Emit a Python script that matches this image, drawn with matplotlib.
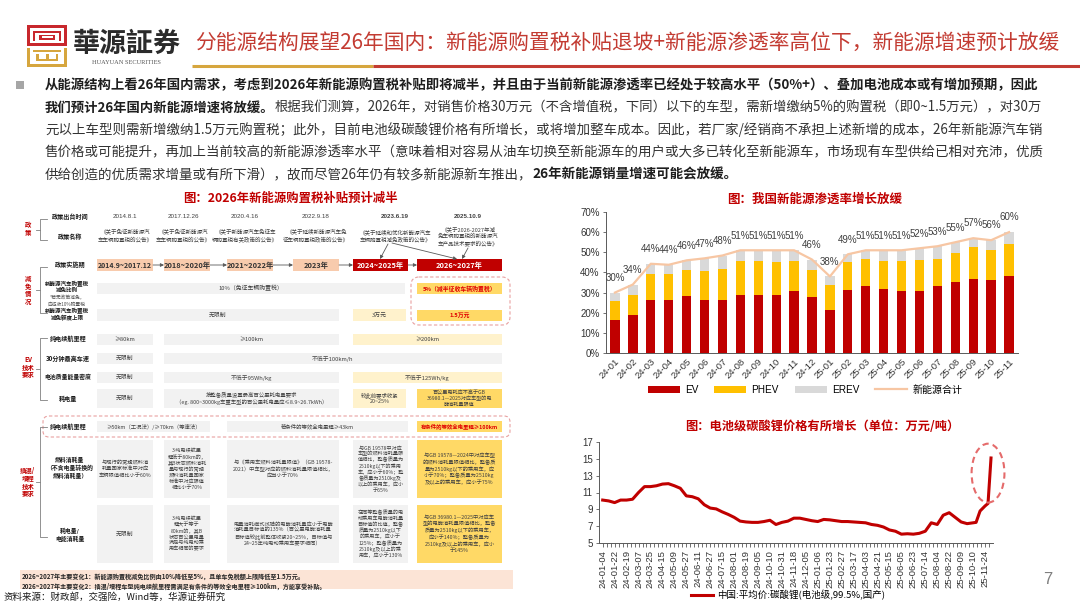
import matplotlib
matplotlib.use('Agg')
import matplotlib.pyplot as plt
from matplotlib.patches import Rectangle, FancyBboxPatch, Ellipse
from matplotlib.font_manager import FontProperties
import numpy as np

CJK = ['Noto Sans CJK SC', 'DejaVu Sans']
LAT = ['Liberation Sans', 'Noto Sans CJK SC', 'DejaVu Sans']
plt.rcParams['font.family'] = CJK
plt.rcParams['axes.unicode_minus'] = False

# ---------------- data ----------------
months = ['24-01', '24-02', '24-03', '24-04', '24-05', '24-06', '24-07', '24-08',
          '24-09', '24-10', '24-11', '24-12', '25-01', '25-02', '25-03', '25-04',
          '25-05', '25-06', '25-07', '25-08', '25-09', '25-10', '25-11']
ev = [16.5, 19.0, 26.1, 26.1, 28.1, 26.5, 26.5, 29.0, 29.0, 29.0, 30.6, 27.6,
      21.2, 31.4, 33.4, 31.9, 30.6, 30.9, 33.1, 35.1, 36.9, 36.1, 38.1]
phev = [9.1, 10.0, 13.3, 13.3, 13.3, 14.0, 15.4, 16.8, 16.5, 16.3, 15.2, 13.8,
        12.7, 13.6, 13.4, 13.9, 14.9, 15.4, 13.7, 14.5, 15.6, 15.2, 16.2]
erev = [4.4, 5.0, 4.9, 4.4, 4.6, 6.5, 6.5, 5.2, 5.5, 5.7, 5.2, 5.0,
        4.1, 4.0, 4.2, 5.2, 5.5, 5.7, 6.2, 5.4, 4.5, 4.7, 5.7]
nev_total = [30.0, 34.0, 44.3, 43.8, 46.0, 47.0, 48.4, 51.0, 51.0, 51.0, 51.0, 46.4,
             38.0, 49.0, 51.0, 51.0, 51.0, 52.0, 53.0, 55.0, 57.0, 56.0, 60.0]

# lithium carbonate price (trading-day index, 10k CNY/t)
li_day = [0, 6, 12, 18, 24, 30, 36, 42, 48, 54, 60, 66, 72, 78, 84, 90, 96, 102,
          108, 114, 120, 126, 132, 138, 144, 150, 156, 162, 168, 174, 180, 186,
          192, 198, 204, 210, 216, 222, 228, 234, 240, 246, 252, 258, 264, 270,
          276, 282, 288, 294, 300, 306, 312, 318, 324, 330, 336, 342, 348, 354,
          360, 366, 372, 375, 379, 384, 387, 390]
li_price = [10.1, 10.0, 9.8, 10.1, 10.1, 10.2, 11.0, 11.7, 11.7, 11.8, 12.0, 12.05,
            11.8, 11.5, 10.6, 10.5, 10.25, 9.55, 9.15, 9.05, 8.7, 8.4, 8.05, 7.6,
            7.5, 7.45, 7.45, 7.55, 7.7, 7.2, 7.45, 7.6, 7.95, 7.95, 7.8, 7.65,
            7.55, 7.8, 7.75, 7.65, 7.55, 7.55, 7.5, 7.45, 7.4, 7.2, 7.1, 6.9,
            6.55, 6.4, 6.05, 6.1, 6.05, 6.15, 6.4, 7.4, 7.2, 8.3, 8.6, 8.05,
            7.5, 7.3, 7.4, 7.45, 8.8, 9.4, 9.7, 15.1]
li_tick_labels = ['24-01-04', '24-01-22', '24-02-19', '24-03-07', '24-03-25', '24-04-15',
                  '24-05-09', '24-05-27', '24-06-11', '24-06-27', '24-07-15', '24-08-01',
                  '24-08-19', '24-09-05', '24-10-10', '24-10-31', '24-11-18', '24-12-05',
                  '25-01-06', '25-01-23', '25-02-27', '25-03-17', '25-04-03', '25-04-21',
                  '25-05-15', '25-06-05', '25-06-23', '25-07-14', '25-08-04', '25-08-22',
                  '25-09-09', '25-10-10', '25-11-24']

RED = '#C00000'
TRED = '#C33B32'
GOLD = '#D6A63E'

W, H = 1080, 604
fig = plt.figure(figsize=(10.8, 6.04), dpi=100)
fig.patch.set_facecolor('white')
bg = fig.add_axes([0, 0, 1, 1], zorder=0)
bg.set_xlim(0, W)
bg.set_ylim(H, 0)
bg.axis('off')
renderer = fig.canvas.get_renderer()


def measure(s, fs, weight='normal', family=CJK):
    t = bg.text(0, 0, s, fontsize=fs, fontweight=weight, family=family)
    w = t.get_window_extent(renderer).width
    t.remove()
    return w


def fit_line(segs, x0, y, width, base=10.0, family=CJK):
    ws = [measure(s, base, wt, family) for s, wt, c in segs]
    k = width / sum(ws)
    fs = base * k
    x = x0
    arts = []
    for (s, wt, c), w in zip(segs, ws):
        arts.append(bg.text(x, y, s, fontsize=fs, fontweight=wt, color=c,
                            family=family, ha='left', va='center'))
        x += w * k
    return arts


def rect(x0, y0, x1, y1, fc, **kw):
    r = Rectangle((x0, y0), x1 - x0, y1 - y0, fc=fc, ec='none', **kw)
    bg.add_patch(r)
    return r


# ---------------- header ----------------
rect(27, 25, 67, 46, '#C8282D')
rect(30, 28, 64, 43, 'white')
rect(33, 30.5, 61, 32.5, '#C8282D')
rect(33, 30.5, 35, 41, '#C8282D')
rect(59, 30.5, 61, 41, '#C8282D')
rect(39, 34.5, 55, 40, '#C8282D')
rect(41.5, 36.3, 52.5, 38.2, 'white')
rect(27, 47.5, 67, 67, GOLD)
rect(30, 47.5, 64, 64, 'white')
rect(33, 50, 61, 52, GOLD)
rect(36, 54, 58, 61, GOLD)
rect(38.5, 54, 55.5, 58.5, 'white')
rect(45.5, 54, 48.5, 58.5, GOLD)

fit_line([('華源証券', 'bold', '#2B2B2B')], 73, 44, 108, family=['Noto Sans CJK TC', 'DejaVu Sans'])
bg.text(126, 62, 'HUAYUAN SECURITIES', fontsize=4.6, family='Liberation Serif',
        color='#555555', ha='center', va='center')

fit_line([('分能源结构展望26年国内：新能源购置税补贴退坡+新能源渗透率高位下，新能源增速预计放缓',
           'normal', TRED)], 195, 43, 862)
bg.plot([192, 373], [65.5, 65.5], color=GOLD, lw=2.2, solid_capstyle='butt')
bg.plot([373, 1080], [65.5, 65.5], color=TRED, lw=2.2, solid_capstyle='butt')

rect(16, 81, 24, 89, '#A6A6A6')
DK = '#1E1E1E'
NM = '#333333'
para = [
    ([('从能源结构上看26年国内需求，考虑到2026年新能源购置税补贴即将减半，并且由于当前新能源渗透率已经处于较高水平（50%+）、叠加电池成本或有增加预期，因此', 'bold', DK)], 995),
    ([('我们预计26年国内新能源增速将放缓。', 'bold', DK),
      ('根据我们测算，2026年，对销售价格30万元（不含增值税，下同）以下的车型，需新增缴纳5%的购置税（即0~1.5万元），对30万', 'normal', NM)], 995),
    ([('元以上车型则需新增缴纳1.5万元购置税；此外，目前电池级碳酸锂价格有所增长，或将增加整车成本。因此，若厂家/经销商不承担上述新增的成本，26年新能源汽车销', 'normal', NM)], 995),
    ([('售价格或可能提升，再加上当前较高的新能源渗透率水平（意味着相对容易从油车切换至新能源车的用户或大多已转化至新能源车，市场现有车型供给已相对充沛，优质', 'normal', NM)], 995),
    ([('供给创造的优质需求增量或有所下滑），故而尽管26年仍有较多新能源新车推出，', 'normal', NM),
      ('26年新能源销量增速可能会放缓。', 'bold', DK)], 693),
]
for i, (segs, wd) in enumerate(para):
    fit_line(segs, 45, 85 + i * 22.5, wd)

# ---------------- left table image ----------------
fit_line([('图：2026年新能源购置税补贴预计减半', 'bold', RED)], 183, 198, 215)

GREY = '#F2F2F2'
LY = '#FFF2CC'
YEL = '#FFD966'
PEACH = '#F8CBAD'
TXT = '#404040'
TRD = '#E00000'


def cell(x0, x1, y0, y1, fc, txt='', tc=TXT, fs=4.2, weight='normal', ls=1.25):
    rect(x0, y0, x1, y1, fc)
    if txt:
        bg.text((x0 + x1) / 2, (y0 + y1) / 2, txt, ha='center', va='center',
                fontsize=fs, color=tc, fontweight=weight, linespacing=ls, family=CJK)


def label(x, y, txt, color='#1A1A1A', fs=4.4, weight='bold', ls=1.3):
    bg.text(x, y, txt, ha='center', va='center', fontsize=fs, color=color,
            fontweight=weight, linespacing=ls, family=CJK)


def bracket(y0, y1, txt, ty):
    bg.plot([47, 40, 40, 47], [y0, y0, y1, y1], color='#808080', lw=0.6)
    bg.plot([36, 40], [(y0 + y1) / 2, (y0 + y1) / 2], color='#808080', lw=0.6)
    bg.text(28, ty, txt, ha='center', va='center', fontsize=4.6, color=RED,
            fontweight='bold', linespacing=1.15)


bracket(219, 240, '政\n策', 229)
bracket(267, 313, '减\n免\n情\n况', 290)
bracket(338, 400, 'EV\n技术\n要求', 367)
bracket(427, 537, '插混/\n增程\n技术\n要求', 482)

label(70, 217, '政策出台时间')
label(70, 236, '政策名称')
label(70, 265, '政策实施期')
label(67, 287, '新能源汽车购置税\n减免比例', fs=4.0, ls=1.2)
label(67, 301, '*若无政策减免，\n应征收10%购置税', color='#505050', fs=3.4, weight='normal', ls=1.15)
label(67, 315, '新能源汽车购置税\n减免额度上限', fs=4.0, ls=1.2)
label(68, 339, '纯电续航里程')
label(68, 359, '30分钟最高车速')
label(68, 377, '电池质量能量密度', fs=4.2)
label(68, 398, '耗电量')
label(68, 427, '纯电续航里程')
label(70, 468, '燃料消耗量\n（不含电量转换的\n燃料消耗量）', fs=4.2)
label(70, 535, '耗电量/\n电能消耗量', fs=4.2)

dates_x = [125, 183, 245, 316, 395, 468]
dates = ['2014.8.1', '2017.12.26', '2020.4.16', '2022.9.18', '2023.6.19', '2025.10.9']
for i, (xx, d) in enumerate(zip(dates_x, dates)):
    bg.text(xx, 217, d, ha='center', va='center', fontsize=4.5, color='#404040',
            fontweight='bold' if i >= 4 else 'normal', family=LAT)
names = ['《关于免征新能源汽\n车车辆购置税的公告》', '《关于免征新能源汽\n车车辆购置税的公告》',
         '《关于新能源汽车免征车\n辆购置税有关政策的公告》', '《关于延续新能源汽车免\n征车辆购置税政策的公告》',
         '《关于延续和优化新能源汽车\n车辆购置税减免政策的公告》',
         '《关于2026-2027年减\n免车辆购置税的新能源汽\n车产品技术要求的公告》']
for i, (xx, n) in enumerate(zip(dates_x, names)):
    bg.text(xx, 236, n, ha='center', va='center', fontsize=4.0, color='#404040',
            linespacing=1.3)

tl = [(97, 153, '2014.9~2017.12', PEACH, '#333333', 5.0),
      (164, 210, '2018~2020年', PEACH, '#333333', 5.3),
      (227, 273, '2021~2022年', PEACH, '#333333', 5.3),
      (293, 339, '2023年', PEACH, '#333333', 5.3),
      (353, 408, '2024~2025年', RED, 'white', 5.3),
      (417, 502, '2026~2027年', RED, 'white', 5.3)]
for x0, x1, t, fc, tc, fs in tl:
    cell(x0, x1, 259, 271, fc, t, tc=tc, fs=fs, weight='bold')
ap = dict(arrowstyle='-|>', color='#595959', lw=0.6, mutation_scale=5, shrinkA=0, shrinkB=0)
for a, b in [(153, 164), (210, 227), (273, 293), (339, 353), (408, 417)]:
    bg.annotate('', xy=(b, 265), xytext=(a, 265), arrowprops=ap)
bg.annotate('', xy=(380, 259), xytext=(388, 244), arrowprops=ap)
bg.annotate('', xy=(457, 259), xytext=(392, 243), arrowprops=ap)
bg.annotate('', xy=(462, 259), xytext=(468, 248), arrowprops=ap)

cell(97, 405, 283, 294, GREY, '10%（免征车辆购置税）')
cell(417, 502, 283, 294, YEL, '5%（减半征收车辆购置税）', tc=TRD, weight='bold')
cell(97, 339, 309, 321, GREY, '无限制')
cell(353, 406, 309, 321, LY, '3万元')
cell(417, 502, 310, 321, YEL, '1.5万元', tc=TRD, weight='bold')
bg.add_patch(FancyBboxPatch((411, 277), 99, 48, boxstyle='round,pad=0,rounding_size=8',
                            fc='none', ec='#E8A0A0', lw=0.8, ls=(0, (3, 2))))

cell(97, 153, 334, 345, GREY, '≥80km')
cell(164, 339, 334, 345, GREY, '≥100km')
cell(353, 502, 334, 345, LY, '≥200km')
cell(97, 153, 353, 364, GREY, '无限制')
cell(164, 502, 353, 364, GREY, '不低于100km/h')
cell(97, 153, 372, 383, GREY, '无限制')
cell(164, 339, 372, 383, GREY, '不低于95Wh/kg')
cell(353, 502, 372, 383, LY, '不低于125Wh/kg')
cell(97, 153, 389, 408, GREY, '无限制')
cell(164, 339, 389, 408, GREY, '按整备质量设置最高百公里耗电量要求\n（eg. 800~3000kg车重车型的百公里耗电量应≤8.9~26.7kWh）', fs=3.9)
cell(353, 406, 389, 408, LY, '较此前要求收紧\n20~25%', fs=3.9)
cell(417, 502, 389, 408, YEL, '百公里电耗应不高于GB\n36980.1—2025对应车型的电\n能消耗量限值', fs=3.7, ls=1.15)

bg.add_patch(FancyBboxPatch((43, 416), 467, 21, boxstyle='round,pad=0,rounding_size=6',
                            fc='none', ec='#E8A0A0', lw=0.8, ls=(0, (3, 2))))
cell(97, 210, 421, 432, GREY, '≥50km（工况法）/≥70km（等速法）', fs=3.9)
cell(227, 408, 421, 432, GREY, '若条件的等效全电里程≥43km', fs=3.9)
cell(417, 502, 421, 432, YEL, '有条件的等效全电里程≥100km', tc=TRD, fs=3.9, weight='bold')

cell(97, 153, 440, 498, GREY, '与现行的常规燃料消\n耗量国家标准中对应\n车辆限值相比小于60%', fs=3.8)
cell(164, 210, 440, 498, GREY, '3.纯电续航里\n程低于80km的，\n其B状态燃料消耗\n量与现行的常规\n燃料消耗量国家\n标准中对应限值\n相比小于70%', fs=3.7, ls=1.2)
cell(227, 339, 440, 498, GREY, '与《乘用车燃料消耗量限值》（GB 19578-\n2021）中车型对应的燃料消耗量限值相比，\n应当小于70%', fs=3.8)
cell(353, 408, 440, 498, GREY, '与GB 19578中对应\n车型的燃料消耗量限\n值相比，整备质量为\n2510kg以下的乘用\n车，应小于60%；整\n备质量为2510kg及\n以上的乘用车，应小\n于65%', fs=3.7, ls=1.15)
cell(417, 502, 440, 498, YEL, '与GB 19578—2024中对应车型\n的燃料消耗量限值相比，整备质\n量为2510kg以下的乘用车，应\n小于70%；整备质量为2510kg\n及以上的乘用车，应小于75%', fs=3.8)

cell(97, 153, 505, 563, GREY, '无限制')
cell(164, 210, 505, 563, GREY, '3.纯电续航里\n程大于等于\n80km的，其B\n状态百公里电量\n满足与纯电动乘\n用车相同的要求', fs=3.7, ls=1.2)
cell(227, 339, 505, 563, GREY, '电量消耗模式试验的电能消耗量应小于电能\n消耗量目标值的135%（百公里电能消耗量\n目标值较此前整体收紧20~25%，目标值与\n24~25年纯电动乘用车要求相同）', fs=3.8)
cell(353, 408, 505, 563, GREY, '在同等整备质量的电\n动乘用车电能消耗量\n目标值的比值，整备\n质量为2510kg以下\n的乘用车，应小于\n125%；整备质量为\n2510kg及以上的乘\n用车，应小于130%', fs=3.7, ls=1.15)
cell(417, 502, 505, 563, YEL, '与GB 36980.1—2025中对应车\n型的电能消耗量限值相比，整备\n质量为2510kg以下的乘用车，\n应小于140%；整备质量为\n2510kg及以上的乘用车，应小\n于145%', fs=3.8)

band = rect(20, 570, 513, 589, '#FCE4D6')
fit_line([('2026~2027年主要变化1：新能源购置税减免比例由10%降低至5%，且单车免税额上限降低至1.5万元。', 'bold', '#262626')], 22, 576, 283)
arts = fit_line([('2026~2027年主要变化2：插混/增程车型纯电续航里程需满足有条件的等效全电里程≥100km，方能享受补贴。', 'bold', '#262626')], 22, 586.5, 303)
for a in arts:
    a.set_clip_path(band)

fit_line([('资料来源：财政部，交强险，Wind等，华源证券研究', 'normal', '#1A1A1A')], 4, 597, 222)

bg.text(1048, 580, '7', fontsize=12, color='#7F7F7F', family=LAT, ha='center', va='center')

# ---------------- bar chart ----------------
fit_line([('图：我国新能源渗透率增长放缓', 'bold', RED)], 727, 199, 175)
axb = fig.add_axes([606 / W, 1 - 353 / H, 412 / W, 141 / H], zorder=2)
axb.set_facecolor('none')
x = np.arange(len(months))
ev_a = np.array(ev)
phev_a = np.array(phev)
erev_a = np.array(erev)
bw = 0.52
b1 = axb.bar(x, ev_a, width=bw, color='#C00000', label='EV', zorder=2)
b2 = axb.bar(x, phev_a, bottom=ev_a, width=bw, color='#FFC000', label='PHEV', zorder=2)
b3 = axb.bar(x, erev_a, bottom=ev_a + phev_a, width=bw, color='#D9D9D9', label='EREV', zorder=2)
ln, = axb.plot(x, nev_total, color='#F7C6A3', lw=1.6, label='新能源合计', zorder=3)
for xi, t in zip(x, nev_total):
    axb.text(xi, t + 7.3, f'{round(t)}%', ha='center', va='center', fontsize=7,
             family=LAT, color='#404040', zorder=4)
axb.set_xlim(-0.5, len(months) - 0.5)
axb.set_ylim(0, 70)
axb.set_yticks(range(0, 71, 10))
axb.set_yticklabels([f'{v}%' for v in range(0, 71, 10)], family=LAT, fontsize=7, color='#333333')
axb.set_xticks(x)
axb.set_xticklabels(months, rotation=45, ha='right', rotation_mode='anchor',
                    family=LAT, fontsize=6.8, color='#333333')
axb.tick_params(axis='x', length=0, pad=3)
axb.tick_params(axis='y', length=2.5, width=0.6, pad=2, color='#595959')
for s in ['top', 'right']:
    axb.spines[s].set_visible(False)
for s in ['left', 'bottom']:
    axb.spines[s].set_color('#595959')
    axb.spines[s].set_linewidth(0.7)
axb.legend(handles=[b1, b2, b3, ln], loc='center', bbox_to_anchor=(805 / W, 1 - 390 / H),
           bbox_transform=fig.transFigure, ncol=4, frameon=False, handlelength=3.2,
           handleheight=0.75, handletextpad=0.5, columnspacing=1.6,
           prop=FontProperties(family=LAT, size=7.2))

# ---------------- line chart ----------------
fit_line([('图：电池级碳酸锂价格有所增长（单位：万元/吨）', 'bold', RED)], 685, 426, 273)
axl = fig.add_axes([599 / W, 1 - 543 / H, 394 / W, 101 / H], zorder=2)
axl.set_facecolor('none')
lline, = axl.plot(li_day, li_price, color='#C00000', lw=2.2, solid_joinstyle='round',
                  label='中国:平均价:碳酸锂(电池级,99.5%,国产)')
axl.set_xlim(-3.7, 392)
axl.set_ylim(5, 17)
axl.set_yticks([5, 7, 9, 11, 13, 15, 17])
axl.set_yticklabels([str(v) for v in [5, 7, 9, 11, 13, 15, 17]], family=LAT, fontsize=7, color='#333333')
axl.set_xticks(np.arange(0, 12 * len(li_tick_labels), 12))
axl.set_xticklabels(li_tick_labels, rotation=90, family=LAT, fontsize=6.8, color='#333333')
axl.set_xticks(np.arange(0, 389, 4), minor=True)
axl.tick_params(axis='x', which='both', length=3, width=0.6, color='#595959', pad=2)
axl.tick_params(axis='y', length=2.5, width=0.6, pad=2, color='#595959')
for s in ['top', 'right']:
    axl.spines[s].set_visible(False)
for s in ['left', 'bottom']:
    axl.spines[s].set_color('#595959')
    axl.spines[s].set_linewidth(0.7)
axl.add_patch(Ellipse((387, 13.3), 33, 7.0, fc='none', ec='#E56B6B', lw=1.5,
                      ls=(0, (3, 2)), clip_on=False, zorder=5))
axl.legend(handles=[lline], loc='center', bbox_to_anchor=(788 / W, 1 - 595 / H),
           bbox_transform=fig.transFigure, frameon=False, handlelength=2.4,
           handletextpad=0.4, prop=FontProperties(family=CJK, size=6.8))

fig.savefig('out.png', dpi=100, facecolor='white')
